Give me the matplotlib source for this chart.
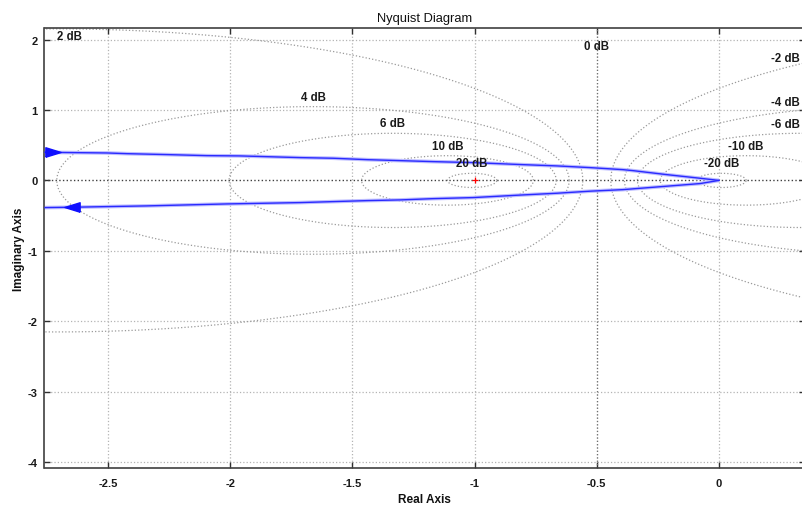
import numpy as np
import matplotlib
matplotlib.use("Agg")
import matplotlib.pyplot as plt

# ---- data ----
upper_re = [-2.758, -2.725, -2.505, -2.423, -2.26, -2.096, -1.96, -1.714, -1.579, -1.44,
            -1.304, -1.17, -1.007, -0.802, -0.663, -0.528, -0.393, -0.352, -0.213, -0.078, 0.0]
upper_im = [0.400, 0.398, 0.390, 0.380, 0.367, 0.352, 0.348, 0.324, 0.315, 0.295,
            0.281, 0.267, 0.253, 0.224, 0.206, 0.182, 0.153, 0.139, 0.082, 0.031, 0.0]
lower_re = [-2.758, -2.647, -2.505, -2.342, -2.178, -2.014, -1.714, -1.579, -1.44, -1.304,
            -1.17, -1.007, -0.802, -0.663, -0.528, -0.393, -0.213, -0.078, 0.0]
lower_im = [-0.386, -0.381, -0.372, -0.362, -0.348, -0.334, -0.315, -0.301, -0.287, -0.277,
            -0.259, -0.244, -0.206, -0.182, -0.153, -0.131, -0.082, -0.045, 0.0]
upper_arrow_idx = 1
lower_arrow_idx = 1

db_levels = [-20, -10, -6, -4, -2, 0, 2, 4, 6, 10, 20]
xticks = [-2.5, -2, -1.5, -1, -0.5, 0]
yticks = [-4, -3, -2, -1, 0, 1, 2]
xlim = (-2.76, 0.352)
ylim = (-4.085, 2.165)

plt.rcParams['font.family'] = ['Liberation Sans', 'DejaVu Sans']

fig = plt.figure(figsize=(8.03, 5.06), dpi=100)
ax = fig.add_axes([44.5 / 803, 37 / 506, (805 - 44.5) / 803, 440 / 506])
ax.set_xlim(*xlim)
ax.set_ylim(*ylim)

grid_col = '#b4b4b4'
circ_col = '#9a9a9a'

# grid
for xv in xticks:
    ax.axvline(xv, color=grid_col, ls=':', lw=0.9, zorder=1)
for yv in yticks:
    if yv != 0:
        ax.axhline(yv, color=grid_col, ls=':', lw=0.9, zorder=1)
ax.axhline(0, color='#404040', ls=':', lw=1.0, zorder=2)

# M-circles
t = np.linspace(0, 2 * np.pi, 721)
for db in db_levels:
    if db == 0:
        ax.axvline(-0.5, color='#707070', ls=':', lw=0.9, zorder=2)
        lx, ly = -0.5, ylim[1] - 0.25
    else:
        M = 10 ** (db / 20)
        c = -M ** 2 / (M ** 2 - 1)
        r = abs(M / (M ** 2 - 1))
        ax.plot(c + r * np.cos(t), r * np.sin(t), color=circ_col, ls=':', lw=0.9, zorder=2)
        lx = min(max(c, xlim[0] + 0.1), xlim[1] - 0.08)
        ly = np.sqrt(max(r ** 2 - (lx - c) ** 2, 0)) + 0.14
        ly = min(ly, ylim[1] - 0.11)
    ax.text(lx, ly, f'{db} dB', ha='center', va='center', fontsize=8.3, fontweight='bold',
            color='#1a1a1a', zorder=5)

# Nyquist curve
for xs, ys in [(upper_re, upper_im), (lower_re, lower_im)]:
    ax.plot(xs, ys, color='#bcbcff', lw=2.6, solid_capstyle='butt', zorder=3)
    ax.plot(xs, ys, color='#2a2aff', lw=1.0, zorder=4)

tri_r = [(-1, -0.62), (1, 0), (-1, 0.62), (-1, -0.62)]
tri_l = [(1, -0.62), (-1, 0), (1, 0.62), (1, -0.62)]
ax.plot(upper_re[upper_arrow_idx], upper_im[upper_arrow_idx], marker=tri_r, ms=11,
        color='#1010ff', mec='#1010ff', zorder=5)
ax.plot(lower_re[lower_arrow_idx], lower_im[lower_arrow_idx], marker=tri_l, ms=11,
        color='#1010ff', mec='#1010ff', zorder=5)

# critical point
ax.plot(-1, 0, marker='+', ms=5, mew=0.9, color='red', zorder=6)

# axes styling
ax.set_xticks(xticks)
ax.set_yticks(yticks)
ax.set_xticklabels(['-2.5', '-2', '-1.5', '-1', '-0.5', '0'], fontweight='bold')
ax.set_yticklabels([str(v) for v in yticks], fontweight='bold')
ax.tick_params(direction='in', length=4, width=1.0, colors='#303030', labelcolor='#1a1a1a',
               labelsize=8, top=True, right=True)
ax.tick_params(axis='x', pad=7)
ax.tick_params(axis='y', pad=5)
for s in ax.spines.values():
    s.set_color('#404040')
    s.set_linewidth(1.2)

ax.set_title('Nyquist Diagram', fontsize=9.3, pad=5, color='#111111')
ax.set_xlabel('Real Axis', fontsize=8.5, labelpad=4, color='#111111', fontweight='bold')
ax.set_ylabel('Imaginary Axis', fontsize=8.5, labelpad=2, color='#111111', fontweight='bold')

fig.savefig('out.png', dpi=100)
